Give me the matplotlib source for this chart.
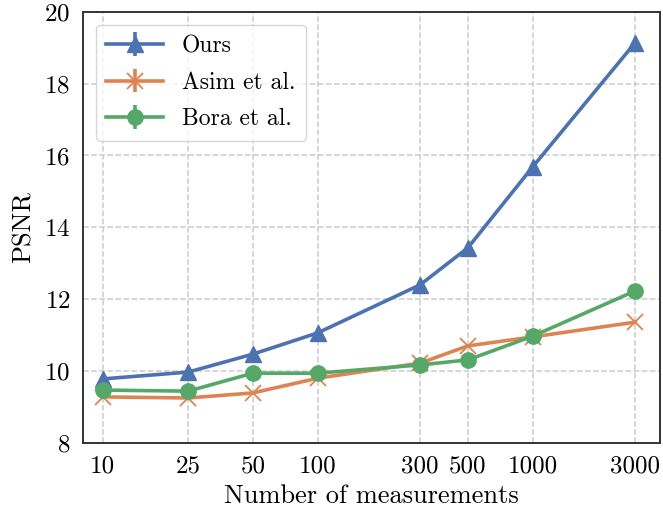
import matplotlib
matplotlib.use('Agg')
import matplotlib.pyplot as plt
import numpy as np

measurements = [10, 25, 50, 100, 300, 500, 1000, 3000]
tick_labels = ['10', '25', '50', '100', '300', '500', '1000', '3000']
ours = [9.78, 9.97, 10.47, 11.06, 12.40, 13.43, 15.68, 19.14]
asim = [9.28, 9.25, 9.39, 9.80, 10.22, 10.70, 10.95, 11.36]
bora = [9.47, 9.44, 9.94, 9.94, 10.17, 10.31, 10.97, 12.23]

plt.rcParams['font.family'] = 'serif'
plt.rcParams['font.serif'] = ['cmr10', 'DejaVu Serif']
plt.rcParams['mathtext.fontset'] = 'cm'
plt.rcParams['axes.formatter.use_mathtext'] = True

fig, ax = plt.subplots(figsize=(6.63, 5.12), dpi=100)
fig.subplots_adjust(left=0.125, right=0.995, top=0.977, bottom=0.135)

zeros = np.zeros(len(measurements))
lw = 2.6
ax.errorbar(measurements, ours, yerr=zeros, color='#4C72B0', marker='^', markersize=11,
            linewidth=lw, elinewidth=lw, label='Ours')
ax.errorbar(measurements, asim, yerr=zeros, color='#DD8452', marker='x', markersize=11,
            markeredgewidth=1.3, linewidth=lw, elinewidth=lw, label='Asim et al.')
ax.errorbar(measurements, bora, yerr=zeros, color='#55A868', marker='o', markersize=11,
            linewidth=lw, elinewidth=lw, label='Bora et al.')

ax.set_xscale('log')
ax.set_xticks(measurements)
ax.set_xticklabels(tick_labels)
ax.minorticks_off()
ax.set_xlim(8.1, 3900)
ax.set_ylim(8, 20)
ax.set_yticks([8, 10, 12, 14, 16, 18, 20])
ax.tick_params(labelsize=18, length=0, pad=9)

ax.set_xlabel('Number of measurements', fontsize=19, labelpad=5)
ax.set_ylabel('PSNR', fontsize=19, labelpad=6)

ax.grid(True, linestyle='--', color='#cccccc', linewidth=1.1)
ax.set_axisbelow(True)
for sp in ax.spines.values():
    sp.set_color('#333333')
    sp.set_linewidth(1.4)

leg = ax.legend(loc='upper left', fontsize=17, frameon=True, fancybox=True,
                borderpad=0.45, labelspacing=0.6, handlelength=2.4,
                handletextpad=0.8, borderaxespad=0.55)
leg.get_frame().set_edgecolor('#cccccc')

plt.savefig('out.png', dpi=100)
